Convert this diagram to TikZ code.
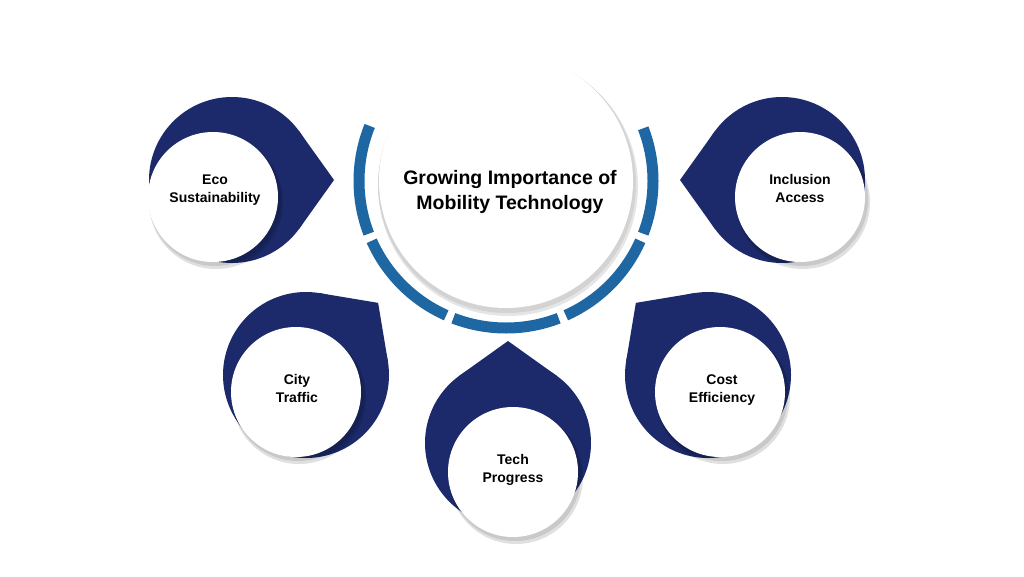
\documentclass[tikz,border=0pt]{standalone}
\usepackage{fontspec}
\setmainfont{Liberation Sans}
\usetikzlibrary{calc}
\definecolor{navy}{HTML}{1C2A6B}
\definecolor{ringblue}{HTML}{1F67A3}
\tikzset{
  stxt/.style={font=\bfseries\fontsize{14}{18}\selectfont,align=center,text=black},
  btxt/.style={font=\bfseries\fontsize{19.5}{25}\selectfont,align=center,text=black},
  seg/.style={draw=ringblue,line width=11pt}
}
\newcommand\mydrop[3]{% navy center, direction, white center
  \fill[navy] (#1) circle (83);
  \fill[navy] ($(#1)+(#2+36:83)$) -- ($(#1)+(#2:102)$) -- ($(#1)+(#2-36:83)$) -- cycle;
  \fill[black,opacity=0.12] ($(#3)+(3,5)$) circle (67);
  \fill[black,opacity=0.10] ($(#3)+(2,3)$) circle (66);
  \fill[white] (#3) circle (65);
}
\begin{document}
\begin{tikzpicture}[x=1pt,y=-1pt]
\useasboundingbox (0,0) rectangle (1024,576);
\fill[white] (0,0) rectangle (1024,576);
\coordinate (C) at (506,181);
\foreach \a/\b in {158/201,204/246,249/291,294/336,339/381}{
  \draw[seg] ($(C)+(-\a:147)$) arc[start angle=-\a,end angle=-\b,radius=147];
}
\fill[black,opacity=0.10] ($(C)+(2,5)$) circle (130);
\fill[black,opacity=0.08] ($(C)+(1,3)$) circle (129);
\fill[white] (C) circle (127);
\node[btxt] (main) at (510,192) {Growing Importance of\\Mobility Technology};
\mydrop{232,180}{0}{213,197}
\node[stxt] (eco) at (215,190) {Eco\\Sustainability};
\mydrop{782,180}{180}{800,197}
\node[stxt] (inc) at (800,188) {Inclusion\\Access};
\mydrop{306,375}{-45}{296,392}
\node[stxt] (city) at (297,388) {City\\Traffic};
\mydrop{508,443}{-90}{513,472}
\node[stxt] (tech) at (513,470) {Tech\\Progress};
\mydrop{708,375}{-135}{720,392}
\node[stxt] (cost) at (722,390) {Cost\\Efficiency};
\end{tikzpicture}
\end{document}
